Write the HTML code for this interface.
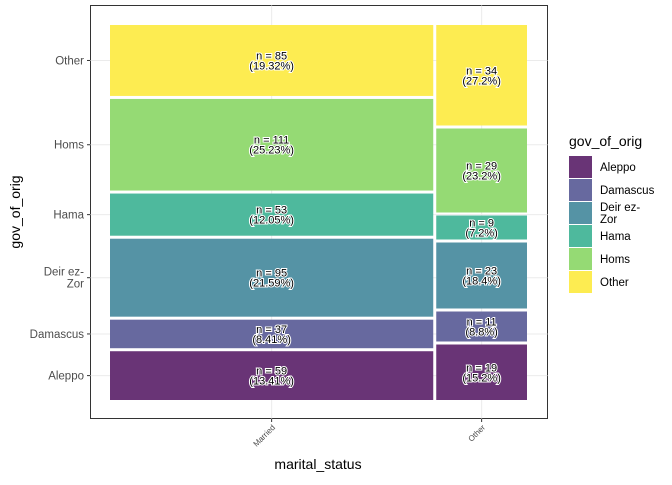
<!DOCTYPE html>
<html><head><meta charset="utf-8"><style>
body{margin:0;background:#fff;font-family:"Liberation Sans",sans-serif}
</style></head><body>
<svg width="672" height="480" xmlns="http://www.w3.org/2000/svg" font-family="Liberation Sans, sans-serif">
<rect x="90.5" y="5.5" width="457" height="413" fill="#fff" stroke="#333" stroke-width="1"/>
<g id="grid"></g>
<g id="bars"></g>
<g id="ylabels"></g>
<g id="xlabels"></g>
<text x="318" y="469" text-anchor="middle" font-size="14" fill="#000">marital_status</text>
<text transform="translate(20,212) rotate(-90)" text-anchor="middle" font-size="14" fill="#000">gov_of_orig</text>
<g id="legend"><text x="569" y="146" font-size="14" fill="#000">gov_of_orig</text></g>
</svg>
<script>
const columns = ["Married","Other"];
const govs = ["Aleppo","Damascus","Deir ez-Zor","Hama","Homs","Other"];
const marriedCounts = [59,37,95,53,111,85];
const otherCounts = [19,11,23,9,29,34];
const colors = ["#693476","#67699f","#5593a5","#4eb99d","#95da74","#fdec51"];
const ns="http://www.w3.org/2000/svg";
const counts=[marriedCounts,otherCounts];
const totals=counts.map(c=>c.reduce((a,b)=>a+b,0));
const grand=totals[0]+totals[1];
const X0=110,X1=527,Y0=400,Y1=25,gap=3;
const xs=v=>X0+v*(X1-X0), ys=v=>Y0-v*(Y0-Y1);
function el(t,a,p){const e=document.createElementNS(ns,t);for(const k in a)e.setAttribute(k,a[k]);p.appendChild(e);return e;}
const G=document.getElementById('grid'),B=document.getElementById('bars'),YL=document.getElementById('ylabels'),XL=document.getElementById('xlabels'),L=document.getElementById('legend');
let cx=0;
counts.forEach((col,ci)=>{
  const w=totals[ci]/grand;
  const xa=xs(cx)+(ci>0?gap/2:0), xb=xs(cx+w)-(ci<counts.length-1?gap/2:0);
  const xc=(xa+xb)/2;
  const gl=el('line',{x1:xc,x2:xc,y1:5.5,y2:418.5,stroke:'#ebebeb','stroke-width':1},G);
  
  
  el('line',{x1:xc,x2:xc,y1:418.5,y2:422,stroke:'#333'},XL);
  const xt=el('text',{transform:`translate(${xc+4},${428}) rotate(-45)`,'text-anchor':'end','font-size':8,fill:'#4d4d4d'},XL);
  xt.textContent=columns[ci];
  
  
  let cy=0;
  col.forEach((n,gi)=>{
    const h=n/totals[ci];
    const ya=ys(cy+h)+(gi<col.length-1?gap/2:0), yb=ys(cy)-(gi>0?gap/2:0);
    const r=el('rect',{x:xa,y:ya,width:xb-xa,height:yb-ya,fill:colors[gi]},B);
    
    
    const yc=(ya+yb)/2;
    if(ci===0){
      const hl=el('line',{x1:90.5,x2:547.5,y1:yc,y2:yc,stroke:'#ebebeb'},G);
      
      
      el('line',{x1:87,x2:90.5,y1:yc,y2:yc,stroke:'#333'},YL);
      const parts=govs[gi]==='Deir ez-Zor'?['Deir ez-','Zor']:[govs[gi]];
      parts.forEach((p,k)=>{
        const t=el('text',{x:84,y:yc+4+(k-(parts.length-1)/2)*12,'text-anchor':'end','font-size':11.5,fill:'#4d4d4d'},YL);
        t.textContent=p;
        
        
      });
    }
    const pct=Math.round(n/totals[ci]*10000)/100;
    [['n = '+n,-1],['('+pct+'%)',9]].forEach(([s,dy])=>{
      const t=el('text',{x:xc,y:yc+dy,'text-anchor':'middle','font-size':11,fill:'#000',stroke:'#fff','stroke-width':2,'paint-order':'stroke'},B);
      t.textContent=s;
      
      
    });
    cy+=h;
  });
  cx+=w;
});
govs.forEach((g,i)=>{
  const y=156+i*23;
  const r=el('rect',{x:569,y:y,width:23,height:22,fill:colors[i]},L);
  
  
  const parts=g==='Deir ez-Zor'?['Deir ez-','Zor']:[g];
  parts.forEach((p,k)=>{
    const t=el('text',{x:600,y:y+15+(k-(parts.length-1)/2)*12,'font-size':11.5,fill:'#000'},L);
    t.textContent=p;
    
    
  });
});
</script>
</body></html>
